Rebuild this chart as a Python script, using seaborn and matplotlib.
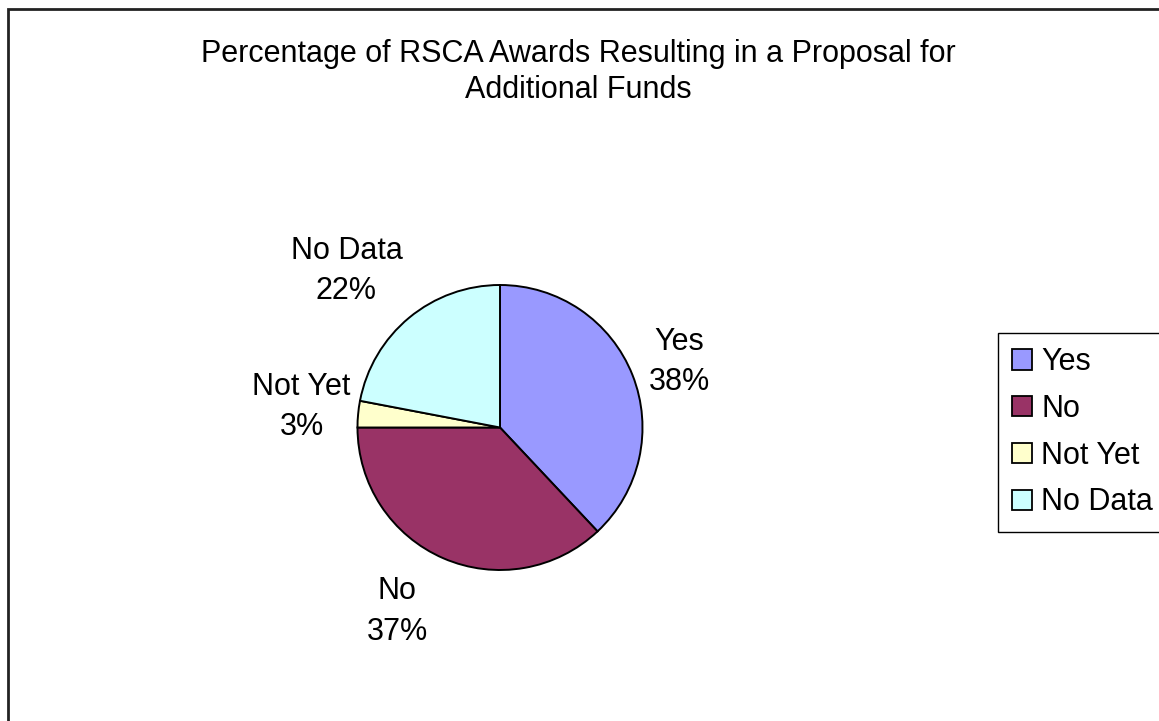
import matplotlib
matplotlib.use("Agg")
import matplotlib.pyplot as plt
import seaborn as sns
from matplotlib.patches import Rectangle, Patch
import numpy as np

categories = ["Yes", "No", "Not Yet", "No Data"]
values = [38, 37, 3, 22]
colors = ["#9999FF", "#993366", "#FFFFCC", "#CCFFFF"]
title = "Percentage of RSCA Awards Resulting in a Proposal for\nAdditional Funds"

# label layout (radius factor, angle nudge in degrees) -- placement only
label_r = [1.34, 1.48, 1.40, 1.54]
label_dang = [-1.5, -5.8, -0.5, 4.8]

sns.set_theme(style="white")
plt.rcParams['font.family'] = ['Liberation Sans', 'DejaVu Sans']
plt.rcParams['text.color'] = 'black'

W, H = 1159, 721
fig = plt.figure(figsize=(W / 100, H / 100), dpi=100)
ax = fig.add_axes([0, 0, 1, 1])

cx, cy, R = 500, H - 427.5, 142.5
wedges, _ = ax.pie(values, colors=colors, startangle=90, counterclock=False,
                   center=(cx, cy), radius=R, frame=True,
                   wedgeprops=dict(edgecolor="black", linewidth=1.4))
ax.set_xlim(0, W)
ax.set_ylim(0, H)
ax.set_aspect("auto")
ax.axis("off")

for w, cat, v, rf, da in zip(wedges, categories, values, label_r, label_dang):
    th = np.deg2rad((w.theta1 + w.theta2) / 2 + da)
    d = R * rf
    ax.text(cx + d * np.cos(th), cy + d * np.sin(th), f"{cat}\n{v}%",
            ha="center", va="center", fontsize=22, color="black", linespacing=1.45)

ax.text(578, H - 72, title, ha="center", va="center", fontsize=22,
        color="black", linespacing=1.22)

# outer frame
ax.add_patch(Rectangle((8, -20), W + 20, H - 9 + 20, fill=False,
                       edgecolor="#222222", linewidth=2))

handles = [Patch(facecolor=c, edgecolor="black", linewidth=1.3) for c in colors]
leg = fig.legend(handles, categories, loc="upper left",
                 bbox_to_anchor=(998 / W, 1 - 333 / H), borderaxespad=0,
                 fontsize=22, frameon=True, fancybox=False, framealpha=1,
                 edgecolor="black", handlelength=0.65, handleheight=0.65,
                 handletextpad=0.3, labelspacing=0.55, borderpad=0.46,
                 labelcolor="black")
leg.get_frame().set_linewidth(1)

fig.savefig("out.png", dpi=100, facecolor="white")
